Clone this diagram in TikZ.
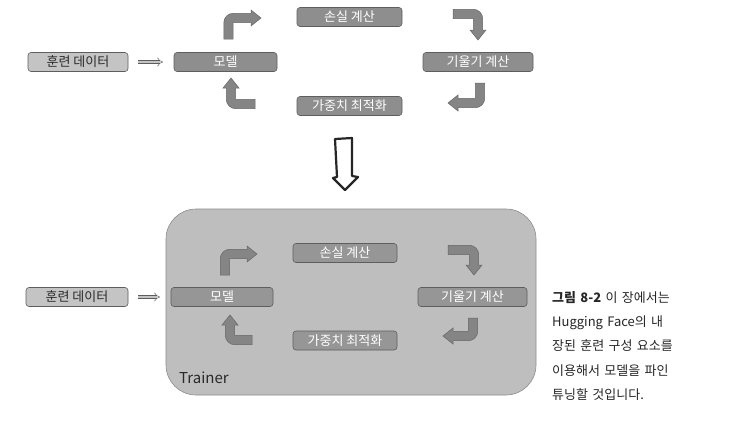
\documentclass[tikz,border=0pt]{standalone}
\usepackage{fontspec}
\setmainfont{Noto Sans CJK KR}
\usepackage{tikz}
\usetikzlibrary{positioning,arrows.meta}
\definecolor{trDark}{HTML}{8E8E8E}
\definecolor{trDarkB}{HTML}{969696}
\definecolor{trLight}{HTML}{C4C4C4}
\definecolor{trEdge}{HTML}{5E5E5E}
\definecolor{trText}{HTML}{2A2A2A}
\definecolor{trBend}{HTML}{858585}
\definecolor{trBendE}{HTML}{666666}
\definecolor{trBack}{HTML}{BEBEBE}
\definecolor{trBackE}{HTML}{8C8C8C}
\newcommand{\trfont}{\fontsize{13}{15}\selectfont}
\newcommand{\capline}[1]{\makebox[123pt][s]{#1}}
\tikzset{
  tr-box/.style={
    draw=trEdge, line width=0.6pt, rounded corners=3pt,
    font=\trfont, inner sep=0pt, outer sep=0pt, minimum height=19pt
  },
  tr-dark/.style={tr-box, fill=trDark, text=white},
  tr-darkb/.style={tr-box, fill=trDarkB, text=white},
  tr-light/.style={tr-box, fill=trLight, text=trText},
  tr-hollow/.style={-{Implies}, draw=trEdge, line width=0.5pt, double=trLight,
    double distance=2.6pt, shorten <=10pt, shorten >=11pt},
  tr-bend/.style={fill=trBend, draw=trBendE, line width=0.5pt},
  pics/bend/.style 2 args={code={
    \path[tr-bend] (-4.7,0) -- (-4.7,#1-4.7)
      arc[start angle=180, end angle=90, radius=9.4]
      -- (#2-10,#1+4.7) -- (#2-10,#1+8) -- (#2,#1) -- (#2-10,#1-8)
      -- (#2-10,#1-4.7) -- (4.7,#1-4.7) -- (4.7,0) -- cycle;
  }}
}
\begin{document}
\begin{tikzpicture}[x=1pt, y=1pt]
\useasboundingbox (0,0) rectangle (749,-424);
% top cycle
\node[tr-light, minimum width=100pt] (data) at (78,-62) {훈련 데이터};
\node[tr-dark, minimum width=103pt, right=46pt of data] (model) {모델};
\node[tr-dark, minimum width=105pt] (loss) at (349.5,-17) {손실 계산};
\node[tr-dark, minimum width=110pt] (grad) at (478,-62) {기울기 계산};
\node[tr-dark, minimum width=105pt] (weights) at (349.5,-106) {가중치 최적화};
\draw[tr-hollow] (data) -- (model);
\pic at (228.5,-39) {bend={21}{32.5}};
\pic[rotate=-90] at (453,-14) {bend={25}{26}};
\pic[rotate=180] at (480,-83) {bend={20}{32}};
\pic[rotate=90] at (255,-104) {bend={24}{26}};

% big arrow down
\draw[line width=2.2pt, draw=black!85, line join=round, fill=white]
  (335,-139) -- (352,-138) -- (352,-176) -- (358,-177) -- (345,-190)
  -- (333,-178) -- (337,-177) -- cycle;

% bottom: Trainer
\node[draw=trBackE, fill=trBack, line width=0.6pt, rounded corners=30pt,
  minimum width=370pt, minimum height=186pt, inner sep=0pt] (trainer)
  at (351,-302) {};
\node[font=\fontsize{15}{17}\selectfont, text=trText, anchor=base west,
  inner sep=0pt] (trlabel) at (179,-383) {Trainer};
\node[tr-light, minimum width=102pt] (data2) at (77,-297) {훈련 데이터};
\node[tr-darkb, minimum width=102pt, right=43pt of data2] (model2) {모델};
\node[tr-darkb, minimum width=104pt] (loss2) at (345,-253) {손실 계산};
\node[tr-darkb, minimum width=109pt] (grad2) at (472.5,-297) {기울기 계산};
\node[tr-darkb, minimum width=104pt] (weights2) at (345,-340.5) {가중치 최적화};
\draw[tr-hollow] (data2) -- (model2);
\pic at (225,-275) {bend={21}{32}};
\pic[rotate=-90] at (448,-250) {bend={26}{25}};
\pic[rotate=180] at (473,-318) {bend={18}{30}};
\pic[rotate=90] at (252,-340) {bend={22}{25}};

% caption
\node[anchor=north west, inner sep=0pt, text width=124pt, align=left,
  text=black!85, font=\fontsize{13}{24.3}\selectfont] (caption) at (552,-291)
  {\capline{\textbf{그림 8-2} 이 장에서는}\\
   \capline{Hugging Face의 내}\\
   \capline{장된 훈련 구성 요소를}\\
   \capline{이용해서 모델을 파인}\\
   튜닝할 것입니다.};
\end{tikzpicture}
\end{document}
